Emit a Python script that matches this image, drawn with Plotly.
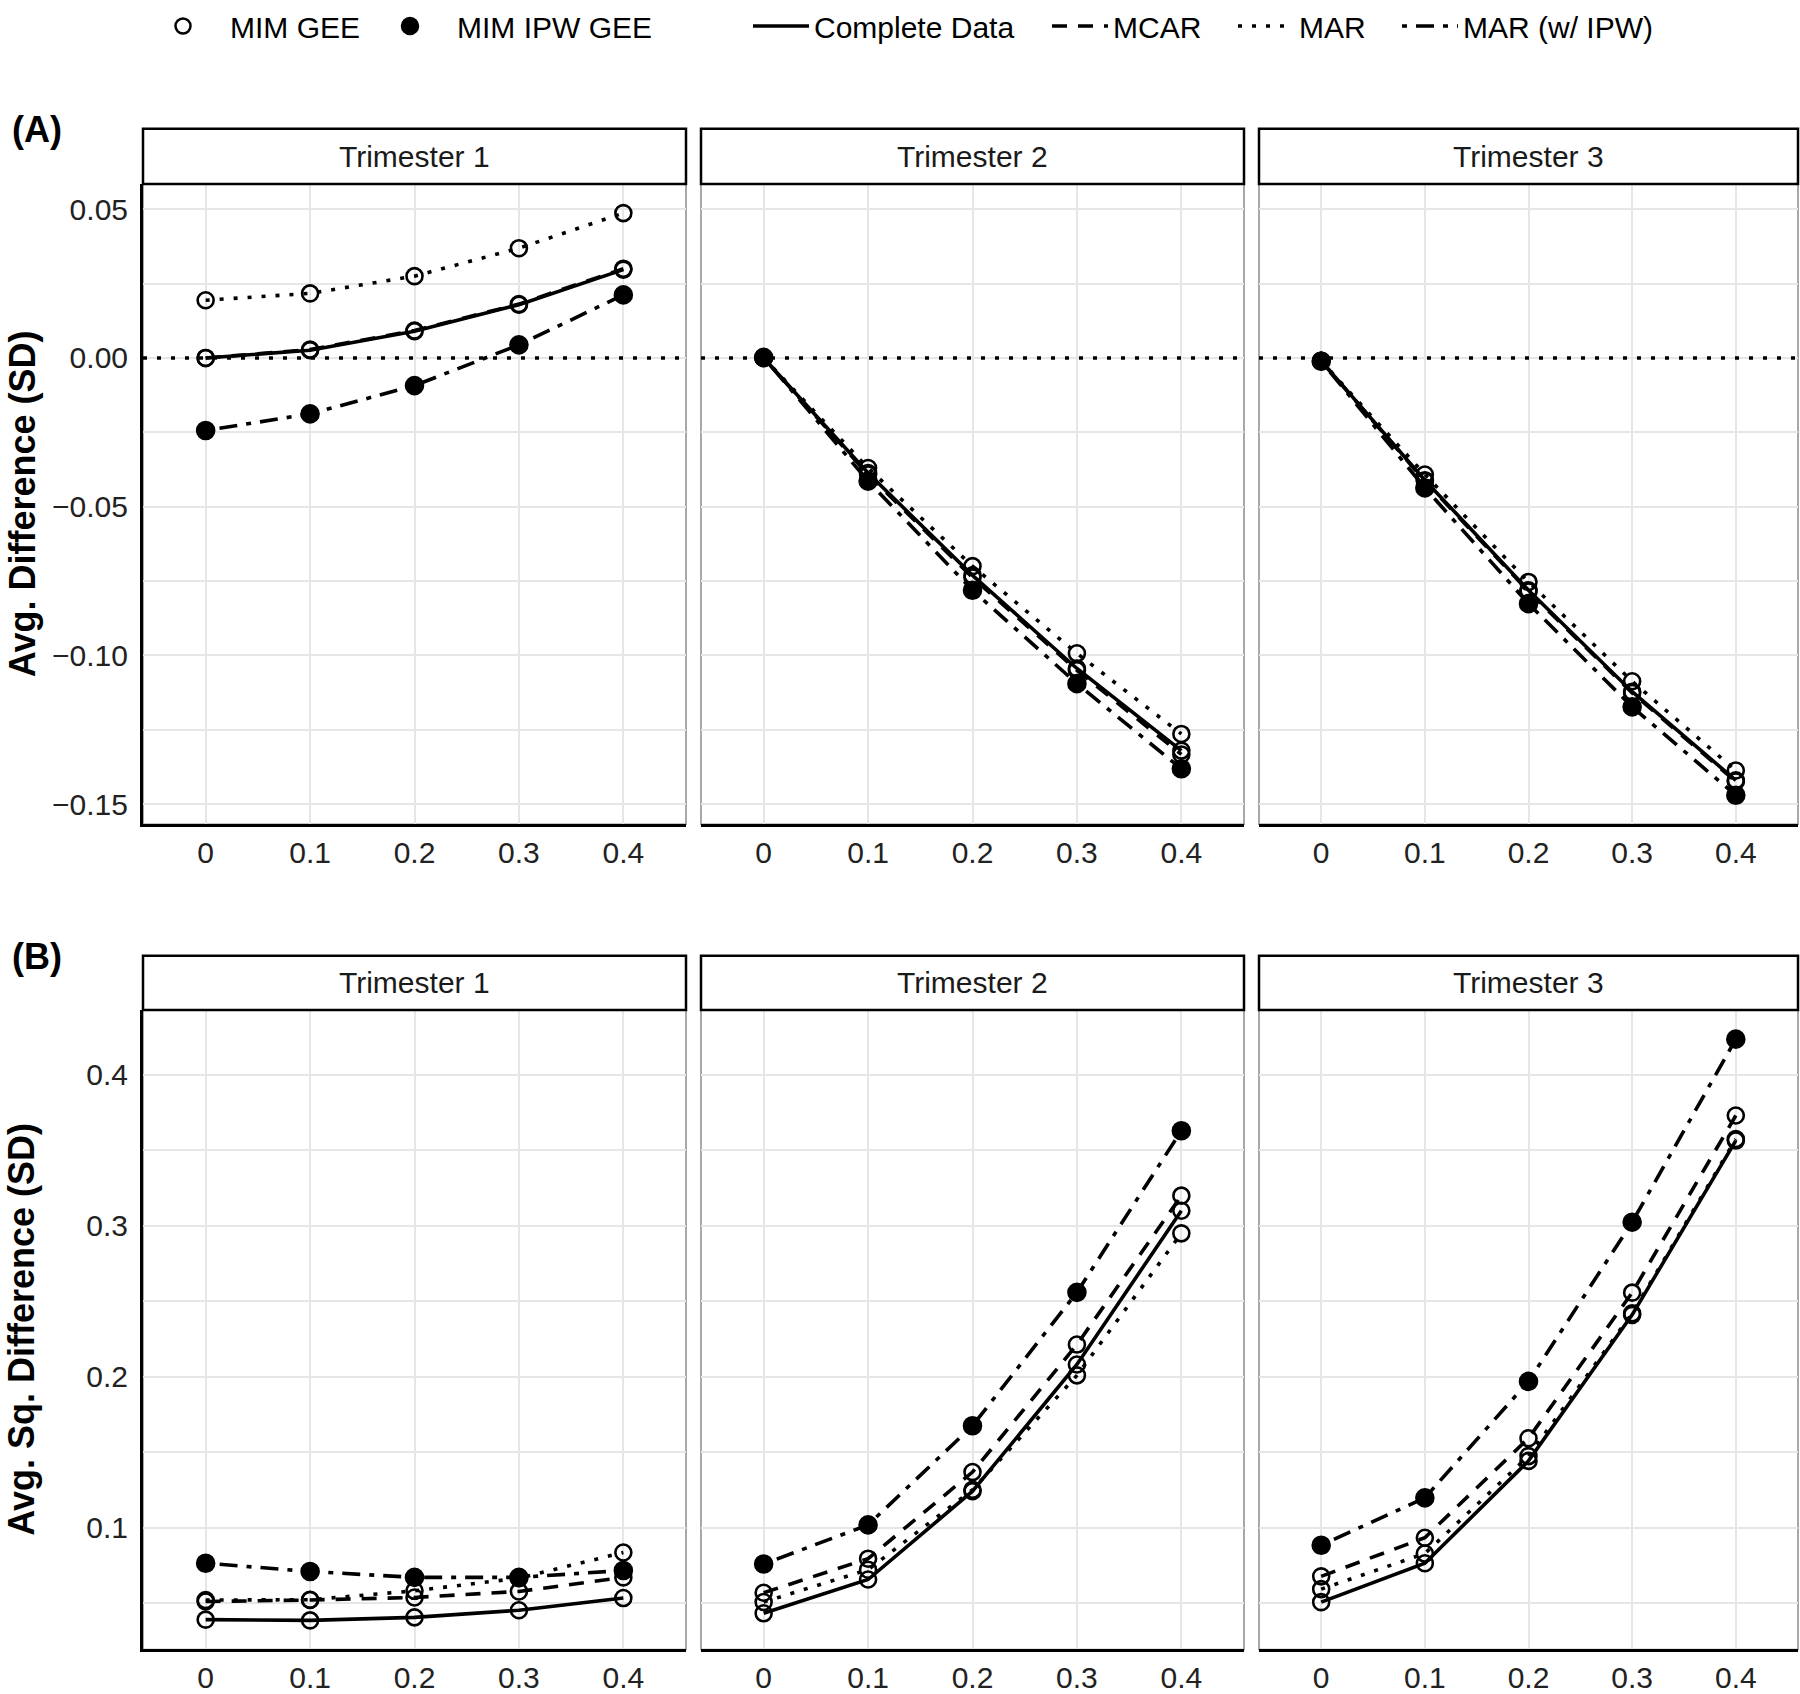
import plotly.graph_objects as go
from plotly.subplots import make_subplots

W, H = 1800, 1694
FONT = "Liberation Sans, Arial, sans-serif"
GRID = "#E6E6E6"

x_vals = [0, 0.1, 0.2, 0.3, 0.4]
x_labels = ["0", "0.1", "0.2", "0.3", "0.4"]
trimesters = ["Trimester 1", "Trimester 2", "Trimester 3"]

# (A) Avg. Difference (SD), one list per trimester
avg_complete = [
    [0.000, 0.0026, 0.0090, 0.0179, 0.0297],
    [0.000, -0.0387, -0.0731, -0.1044, -0.1320],
    [-0.001, -0.0411, -0.0781, -0.1122, -0.1420],
]
avg_mcar = [
    [0.000, 0.0028, 0.0092, 0.0181, 0.0300],
    [0.000, -0.0392, -0.0738, -0.1050, -0.1333],
    [-0.001, -0.0414, -0.0785, -0.1126, -0.1424],
]
avg_mar = [
    [0.0194, 0.0217, 0.0275, 0.0369, 0.0487],
    [0.000, -0.0370, -0.0700, -0.0993, -0.1264],
    [-0.001, -0.0392, -0.0753, -0.1087, -0.1387],
]
avg_ipw = [
    [-0.0244, -0.0188, -0.0093, 0.0044, 0.0212],
    [0.0002, -0.0414, -0.0781, -0.1095, -0.1381],
    [-0.0011, -0.0437, -0.0826, -0.1173, -0.1470],
]

# (B) Avg. Sq. Difference (SD)
sq_complete = [
    [0.0390, 0.0385, 0.0405, 0.0452, 0.0533],
    [0.0432, 0.0656, 0.1241, 0.2081, 0.3100],
    [0.0506, 0.0764, 0.1442, 0.2410, 0.3565],
]
sq_mcar = [
    [0.0510, 0.0520, 0.0537, 0.0577, 0.0670],
    [0.0568, 0.0794, 0.1368, 0.2213, 0.3200],
    [0.0677, 0.0933, 0.1592, 0.2557, 0.3731],
]
sq_mar = [
    [0.0520, 0.0522, 0.0581, 0.0665, 0.0835],
    [0.0507, 0.0721, 0.1250, 0.2009, 0.2950],
    [0.0592, 0.0828, 0.1474, 0.2420, 0.3575],
]
sq_ipw = [
    [0.0764, 0.0709, 0.0670, 0.0670, 0.0716],
    [0.0759, 0.1018, 0.1675, 0.2559, 0.3630],
    [0.0883, 0.1197, 0.1969, 0.3024, 0.4237],
]

series_names = ["Complete Data", "MCAR", "MAR", "MAR (w/ IPW)"]
series_dash = ["solid", "15px,11px", "4px,10px", "5px,9px,18px,9px"]
series_symbol = ["circle-open", "circle-open", "circle-open", "circle"]

rows = [
    dict(label="(A)", title="Avg. Difference (SD)", data=[avg_complete, avg_mcar, avg_mar, avg_ipw],
         dtick=0.05, fmt=".2f", hline=True),
    dict(label="(B)", title="Avg. Sq. Difference (SD)", data=[sq_complete, sq_mcar, sq_mar, sq_ipw],
         dtick=0.1, fmt=".1f", hline=False),
]

# layout in pixels
col_px = [(143, 686), (701, 1244), (1259, 1798)]
panel_px = [(172, 820), (1008, 1655)]
strip_px = [(116, 172), (953, 1008)]
legend_mid = 12

# legend: one small legend per key, placed where the reference has it
legend_keys = [
    ("MIM GEE", "marker", 136),
    ("MIM IPW GEE", "marker", 363),
    ("Complete Data", "line", 748),
    ("MCAR", "line", 1047),
    ("MAR", "line", 1233),
    ("MAR (w/ IPW)", "line", 1397),
]


def px_x(v):
    return v / W


def px_y(v):
    return 1 - v / H


fig = make_subplots(rows=2, cols=3)
shapes = []

for r, row in enumerate(rows, start=1):
    all_vals = [v for s in row["data"] for t in s for v in t]
    lo, hi = min(all_vals), max(all_vals)
    pad = (hi - lo) * 0.05
    y_range = [lo - pad, hi + pad]

    for c in range(1, 4):
        for s in range(4):
            open_marker = series_symbol[s] == "circle-open"
            fig.add_trace(
                go.Scatter(
                    x=x_vals, y=row["data"][s][c - 1], mode="lines+markers",
                    line=dict(color="black", width=3.6, dash=series_dash[s]),
                    marker=dict(symbol=series_symbol[s], size=16 if open_marker else 17, color="black",
                                line=dict(width=2.6, color="black")),
                    showlegend=False, hoverinfo="skip",
                ),
                row=r, col=c,
            )

        x0, x1 = col_px[c - 1]
        y0, y1 = panel_px[r - 1]
        fig.update_xaxes(
            domain=[px_x(x0), px_x(x1)], range=[-0.06, 0.46],
            tickvals=x_vals, ticktext=x_labels, ticks="", ticklabelstandoff=0,
            showgrid=True, gridcolor=GRID, gridwidth=2, zeroline=False,
            showline=True, linecolor="black", linewidth=3,
            tickfont=dict(size=30, color="#222222", family=FONT),
            row=r, col=c,
        )
        fig.update_yaxes(
            domain=[px_y(y1), px_y(y0)], range=y_range,
            tickmode="linear", tick0=0, dtick=row["dtick"], tickformat=row["fmt"],
            ticks="", ticklabelstandoff=6, showticklabels=(c == 1),
            showgrid=True, gridcolor=GRID, gridwidth=2, zeroline=False,
            minor=dict(dtick=row["dtick"] / 2, showgrid=True, gridcolor=GRID, gridwidth=1.5),
            showline=(c == 1), linecolor="black", linewidth=3,
            tickfont=dict(size=30, color="#222222", family=FONT),
            row=r, col=c,
        )

        # thin panel border
        idx = (r - 1) * 3 + c
        suffix = "" if idx == 1 else str(idx)
        shapes.append(dict(type="rect", xref=f"x{suffix} domain", yref=f"y{suffix} domain",
                           x0=0, x1=1, y0=0, y1=1, line=dict(color="#8C8C8C", width=1.5), layer="below"))

        if row["hline"]:
            shapes.append(dict(type="line", xref=f"x{suffix} domain", yref=f"y{suffix}",
                               x0=0, x1=1, y0=0, y1=0, layer="above",
                               line=dict(color="black", width=3.4, dash="4px,10px")))

        # facet strip
        s0, s1 = strip_px[r - 1]
        shapes.append(dict(type="rect", xref="paper", yref="paper",
                           x0=px_x(x0), x1=px_x(x1), y0=px_y(s1), y1=px_y(s0),
                           line=dict(color="black", width=2.5), fillcolor="white", layer="above"))
        fig.add_annotation(x=px_x((x0 + x1) / 2), y=px_y((s0 + s1) / 2), xref="paper", yref="paper",
                           text=trimesters[c - 1], showarrow=False, xanchor="center", yanchor="middle",
                           font=dict(size=30, color="#1A1A1A", family=FONT))

    # row label and y axis title
    fig.add_annotation(x=px_x(10), y=px_y(strip_px[r - 1][0] + 1), xref="paper", yref="paper",
                       text=f"<b>{row['label']}</b>", showarrow=False, xanchor="left", yanchor="middle",
                       font=dict(size=36, color="black", family=FONT))
    fig.add_annotation(x=px_x(22), y=px_y(sum(panel_px[r - 1]) / 2), xref="paper", yref="paper",
                       text=f"<b>{row['title']}</b>", showarrow=False, textangle=-90,
                       xanchor="center", yanchor="middle",
                       font=dict(size=36, color="black", family=FONT))

# legend entries
legend_layout = {}
for i, (name, kind, left) in enumerate(legend_keys):
    lname = "legend" if i == 0 else f"legend{i + 1}"
    if kind == "marker":
        filled = name == "MIM IPW GEE"
        fig.add_trace(go.Scatter(
            x=[None], y=[None], mode="markers", name=name, legend=lname,
            marker=dict(symbol="circle" if filled else "circle-open", size=17 if filled else 15,
                        color="black", line=dict(width=2.5, color="black"))))
        iw = 84
    else:
        s = series_names.index(name)
        fig.add_trace(go.Scatter(
            x=[None], y=[None], mode="lines", name=name, legend=lname,
            line=dict(color="black", width=3.6, dash=series_dash[s])))
        iw = 56
    legend_layout[lname] = dict(
        orientation="h", x=px_x(left), y=px_y(legend_mid), xanchor="left", yanchor="middle",
        font=dict(size=30, family=FONT, color="black"), itemwidth=iw, bgcolor="rgba(0,0,0,0)")

fig.update_layout(
    width=W, height=H,
    margin=dict(l=0, r=0, t=0, b=0),
    paper_bgcolor="white", plot_bgcolor="white",
    font=dict(family=FONT, size=30, color="black"),
    shapes=shapes,
    **legend_layout,
)

fig.write_html("out.html", config={"displayModeBar": False},
               post_script="document.body.style.margin='0px';")
